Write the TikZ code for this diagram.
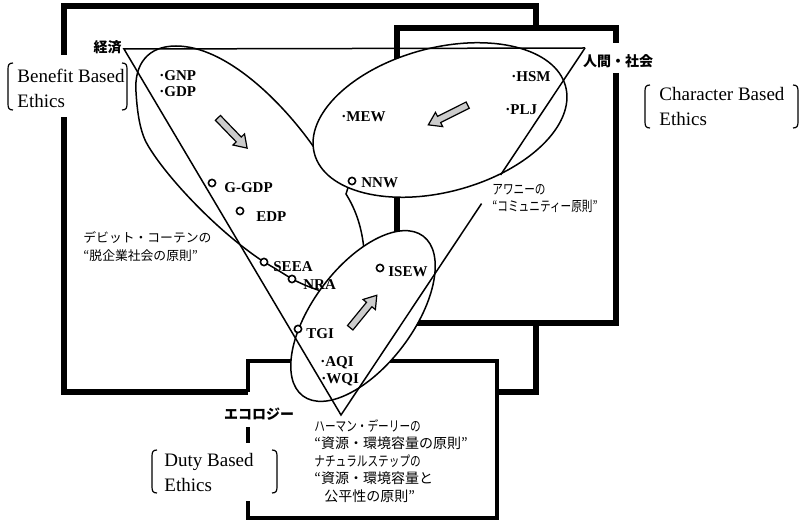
\documentclass[tikz,border=0pt]{standalone}
\usepackage{fontspec}
\setmainfont{Liberation Serif}
\newfontfamily\jp{Noto Sans CJK JP}
\usetikzlibrary{calc}
\newcommand{\narrowjp}[1]{\scalebox{0.76}[1]{#1}}

\begin{document}
\begin{tikzpicture}[x=0.5pt, y=-0.5pt,
  thickbox/.style={line width=2.6pt},
  thinbox/.style={line width=1.6pt},
  curve/.style={line width=0.75pt},
  brk/.style={line width=0.6pt},
  idx/.style={font=\bfseries\fontsize{7.5}{9}\selectfont, inner sep=0pt, anchor=west},
  ring/.style={circle, draw, line width=0.8pt, fill=white, inner sep=0pt, minimum size=3.6pt},
  corner/.style={font=\jp\bfseries\fontsize{7}{8}\selectfont, inner sep=0pt},
  note/.style={font=\jp\fontsize{6.4}{9}\selectfont, inner sep=0pt, anchor=west, align=left},
  ethics/.style={font=\fontsize{9.5}{12.5}\selectfont, inner sep=0pt, anchor=west, align=left},
  blockarrow/.style={draw, fill=gray!40, line width=0.6pt, line join=miter}
]
  \useasboundingbox (0,0) rectangle (801,523);

  % ===== boxes =====
  \draw[thickbox] (64,55) -- (64,6) -- (536,6) -- (536,392) -- (64,392) -- (64,117);
  \fill[white] (397,28) rectangle (616,323);
  \draw[thickbox] (616,73) -- (616,323) -- (397,323) -- (397,28) -- (616,28) -- (616,43);
  \fill[white] (248,361) rectangle (497,518);
  \draw[thinbox] (248,392) -- (248,361) -- (497,361) -- (497,518) -- (248,518) -- (248,501);
  \draw[thinbox] (248,427) -- (248,443);

  % ===== economy region =====
  \draw[curve] (136,92) .. controls (134,64) and (148,46) .. (176,46)
    .. controls (226,46) and (282,102) .. (313,146) -- (360,150) -- (346,194)
    .. controls (356,210) and (362,228) .. (364,250) -- (345,300) -- (318,290)
    .. controls (306,286) and (298,282) .. (292,279)
    .. controls (281,272) and (271,266) .. (264,262)
    .. controls (215,230) and (162,172) .. (146,142)
    .. controls (139,128) and (137,108) .. cycle;

  % ===== society / ecology regions =====
  \draw[curve, fill=white, rotate around={15:(440,120)}] (440,120) ellipse [x radius=130, y radius=72];
  \draw[curve, fill=white, rotate around={53:(363,316)}] (363,316) ellipse [x radius=100, y radius=50];

  % ===== triangle =====
  \coordinate (keizai) at (124,49);
  \coordinate (ningen) at (585,48);
  \coordinate (ecology) at (341,415);
  \draw[curve] (ningen) -- ($(ningen)!0.346!(ecology)$);
  \draw[curve] ($(ningen)!0.424!(ecology)$) -- (ecology) -- (keizai) -- (ningen);

  % ===== arrows =====
  \draw[blockarrow, shift={(232.5,133)}, rotate=-46]
    (-21,-3.5) -- (9,-3.5) -- (9,-8) -- (21,0) -- (9,8) -- (9,3.5) -- (-21,3.5) -- cycle;
  \draw[blockarrow, shift={(448,115)}, rotate=206.6]
    (-22,-3.5) -- (10,-3.5) -- (10,-8) -- (22,0) -- (10,8) -- (10,3.5) -- (-22,3.5) -- cycle;
  \draw[blockarrow, shift={(363.5,311.5)}, rotate=50.7]
    (-21,-3.5) -- (9,-3.5) -- (9,-8) -- (21,0) -- (9,8) -- (9,3.5) -- (-21,3.5) -- cycle;

  % ===== indicators =====
  \node[idx] (gnp) at (159,76) {·GNP};
  \node[idx] (gdp) at (159,92) {·GDP};
  \node[idx] (mew) at (341,117) {·MEW};
  \node[idx] (hsm) at (511,77) {·HSM};
  \node[idx] (plj) at (505,110) {·PLJ};
  \node[idx] (aqi) at (320,363) {·AQI};
  \node[idx] (wqi) at (321,380) {·WQI};

  \node[ring] (nnw-m) at (352,181) {};
  \node[idx] (nnw) at (361,183) {NNW};
  \node[ring] (ggdp-m) at (212,183) {};
  \node[idx] (ggdp) at (224,188) {G-GDP};
  \node[ring] (edp-m) at (240,211) {};
  \node[idx] (edp) at (256,217) {EDP};
  \node[ring] (seea-m) at (264,262) {};
  \node[idx] (seea) at (273,267) {SEEA};
  \node[ring] (nra-m) at (292,279) {};
  \node[idx] (nra) at (303,285) {NRA};
  \node[ring] (isew-m) at (380,268) {};
  \node[idx] (isew) at (388,272) {ISEW};
  \node[ring] (tgi-m) at (298,329) {};
  \node[idx] (tgi) at (306,334) {TGI};

  % ===== corner labels =====
  \node[corner, anchor=east] (keizai-l) at (122,47) {経済};
  \node[corner] (ningen-l) at (618,61) {人間・社会};
  \node[corner] (ecology-l) at (259,414) {エコロジー};

  % ===== principles =====
  \node[note] (korten) at (83,247) {デビット・コーテンの\\“脱企業社会の原則”};
  \node[note, font=\jp\fontsize{7}{8.5}\selectfont] (ahwahnee) at (492,198)
    {\narrowjp{アワニーの}\\\narrowjp{“コミュニティー原則”}};
  \node[note, font=\jp\fontsize{7}{8.75}\selectfont] (daly) at (314,461)
    {\narrowjp{ハーマン・デーリーの}\\“資源・環境容量の原則”\\\narrowjp{ナチュラルステップの}\\“資源・環境容量と\\\hspace{5pt}公平性の原則”};

  % ===== ethics =====
  \node[ethics] (benefit) at (17,88) {Benefit Based\\Ethics};
  \draw[brk] (13,63) .. controls (9,63) and (8,65) .. (8,69) -- (8,104) .. controls (8,108) and (9,110) .. (13,110);
  \draw[brk] (122,63) .. controls (126,63) and (127,65) .. (127,69) -- (127,104) .. controls (127,108) and (126,110) .. (122,110);

  \node[ethics] (character) at (659,107) {Character Based\\Ethics};
  \draw[brk] (650,85) .. controls (646,85) and (645,87) .. (645,91) -- (645,122) .. controls (645,126) and (646,128) .. (650,128);
  \draw[brk] (793,85) .. controls (797,85) and (798,87) .. (798,91) -- (798,122) .. controls (798,126) and (797,128) .. (793,128);

  \node[ethics] (duty) at (164,472) {Duty Based\\Ethics};
  \draw[brk] (157,450) .. controls (153,450) and (152,452) .. (152,456) -- (152,487) .. controls (152,491) and (153,493) .. (157,493);
  \draw[brk] (272,450) .. controls (276,450) and (277,452) .. (277,456) -- (277,487) .. controls (277,491) and (276,493) .. (272,493);
\end{tikzpicture}
\end{document}
